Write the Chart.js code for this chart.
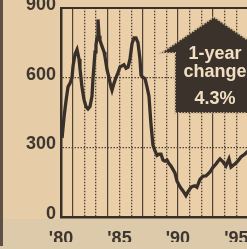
<!DOCTYPE html>
<html>
<head>
<meta charset="utf-8">
<script src="https://cdn.jsdelivr.net/npm/chart.js@4"></script>
<style>
  html, body { margin: 0; padding: 0; }
  body { width: 247px; height: 249px; overflow: hidden; position: relative; background: #e6cca7; }
  #band { position: absolute; left: 0; top: 219px; width: 247px; height: 30px; background: #dccaaa; }
  #frame { position: absolute; left: 0; top: 0; width: 3px; height: 246px; background: #5e5044; }
  #wrap { position: absolute; left: 0; top: -8px; width: 262px; height: 257px; }
  #arrow { position: absolute; left: 0; top: 0; width: 247px; height: 249px; }
</style>
</head>
<body>
<div id="band"></div>
<div id="frame"></div>
<div id="wrap"><canvas id="chart" width="262" height="257"></canvas></div>
<svg id="arrow" width="247" height="249">
  <polygon points="214,17 161,53 175,53 175,113 253,113 253,53 267,53"
           fill="#3b322b" stroke="#cdb593" stroke-width="2" stroke-dasharray="1.5 1.5"/>
  <g font-family="Liberation Sans, Arial, sans-serif" font-weight="bold" font-size="18" fill="#f2dfc2" text-anchor="middle">
    <text x="215" y="59">1-year</text>
    <text x="215" y="77">change</text>
    <text x="215" y="104">4.3%</text>
  </g>
</svg>
<script>
// Index values (x = year, y = index)
const years = [1980.09, 1980.26, 1980.43, 1980.60, 1980.77, 1980.94, 1981.03, 1981.20, 1981.37, 1981.54,
  1981.62, 1981.79, 1981.97, 1982.14, 1982.31, 1982.48, 1982.65, 1982.74, 1982.91, 1982.99,
  1983.08, 1983.16, 1983.25, 1983.33, 1983.50, 1983.68, 1983.76, 1983.93, 1984.10, 1984.27,
  1984.36, 1984.53, 1984.70, 1984.87, 1985.04, 1985.21, 1985.38, 1985.56, 1985.73, 1985.90,
  1986.07, 1986.24, 1986.41, 1986.58, 1986.75, 1986.84, 1987.01, 1987.18, 1987.35, 1987.52,
  1987.69, 1987.86, 1988.03, 1988.21, 1988.38, 1988.55, 1988.72, 1988.89, 1989.06, 1989.23,
  1989.40, 1989.57, 1989.74, 1989.91, 1990.17, 1990.43, 1990.68, 1990.85, 1991.11, 1991.28,
  1991.45, 1991.62, 1991.88, 1992.14, 1992.39, 1992.56, 1992.74, 1992.99, 1993.25, 1993.42,
  1993.59, 1993.85, 1994.10, 1994.36, 1994.53, 1994.70, 1994.87, 1995.13, 1995.38, 1995.73,
  1995.90, 1996.15];
const values = [340, 430, 500, 560, 575, 600, 650, 700, 720, 680,
  640, 560, 505, 475, 465, 475, 520, 600, 710, 740,
  770, 850, 780, 760, 735, 710, 690, 635, 600, 560,
  545, 575, 600, 620, 645, 650, 655, 640, 645, 680,
  745, 770, 770, 750, 680, 610, 600, 595, 560, 520,
  400, 310, 285, 265, 270, 270, 245, 240, 245, 230,
  220, 205, 190, 155, 130, 112, 92, 108, 128, 132,
  134, 128, 162, 176, 177, 185, 194, 214, 228, 240,
  250, 237, 220, 250, 215, 222, 228, 241, 258, 271,
  280, 290];

const labelYears = [1980, 1985, 1990, 1995];
const solidGridYears = [1981, 1984, 1987, 1990, 1993];
const dottedGridYears = [1982, 1983, 1985, 1986, 1988, 1989, 1991, 1992, 1994, 1995, 1996];
const yTicks = [0, 300, 600, 900];

const xMin = 1980, xMax = 1996.67;
const ink = '#3a302a';
const tickFont = { family: 'Liberation Sans, Arial, sans-serif', size: 18, weight: 'bold' };

// fill the plot area with the paper tone
const plotBg = {
    id: 'plotBg',
    beforeDraw(chart) {
        const a = chart.chartArea, ctx = chart.ctx;
        ctx.save();
        ctx.fillStyle = '#ebcfa8';
        ctx.fillRect(a.left, a.top, a.right - a.left, a.bottom - a.top);
        ctx.restore();
    }
};

function setTicks(list) {
    return function(axis) { axis.ticks = list.map(v => ({ value: v })); };
}

new Chart(document.getElementById('chart'), {
    type: 'line',
    data: {
        datasets: [{
            data: years.map((x, i) => ({ x: x, y: values[i] })),
            borderColor: ink,
            borderWidth: 3.3,
            pointRadius: 0,
            tension: 0,
            xAxisID: 'x',
            yAxisID: 'y'
        }]
    },
    options: {
        responsive: false,
        animation: false,
        events: [],
        layout: { padding: { left: 25, top: 15, right: 6, bottom: 7 } },
        plugins: { legend: { display: false }, tooltip: { enabled: false } },
        scales: {
            x: {
                type: 'linear', position: 'bottom', min: xMin, max: xMax,
                afterBuildTicks: setTicks(labelYears),
                afterFit: (s) => { s.height = 25; },
                grid: { display: false },
                border: { display: true, color: ink, width: 2.5 },
                ticks: {
                    color: '#3e3630', font: tickFont, padding: 3, maxRotation: 0,
                    autoSkip: false,
                    callback: (v) => "'" + String(v).slice(2)
                }
            },
            xDot: {
                type: 'linear', position: 'bottom', min: xMin, max: xMax,
                afterBuildTicks: setTicks(dottedGridYears),
                ticks: { display: false },
                grid: { color: '#4f4236', lineWidth: 1.3, drawTicks: false },
                border: { display: false, dash: [1.5, 1.5] }
            },
            xSolid: {
                type: 'linear', position: 'top', min: xMin, max: xMax,
                afterBuildTicks: setTicks(solidGridYears),
                ticks: { display: false },
                grid: { color: '#4f4236', lineWidth: 1.2, drawTicks: false },
                border: { display: true, color: ink, width: 2 }
            },
            y: {
                min: 0, max: 900,
                afterBuildTicks: setTicks(yTicks),
                afterFit: (s) => { s.width = 36; },
                grid: {
                    color: (c) => (c.tick && (c.tick.value === 300 || c.tick.value === 600)) ? '#4f4236' : 'rgba(0,0,0,0)',
                    lineWidth: 1.3, drawTicks: false
                },
                border: { display: true, color: ink, width: 2.5, dash: [1.5, 1.5] },
                ticks: { color: '#3e3630', font: tickFont, padding: 5, labelOffset: -3 }
            }
        }
    },
    plugins: [plotBg]
});
</script>
</body>
</html>
